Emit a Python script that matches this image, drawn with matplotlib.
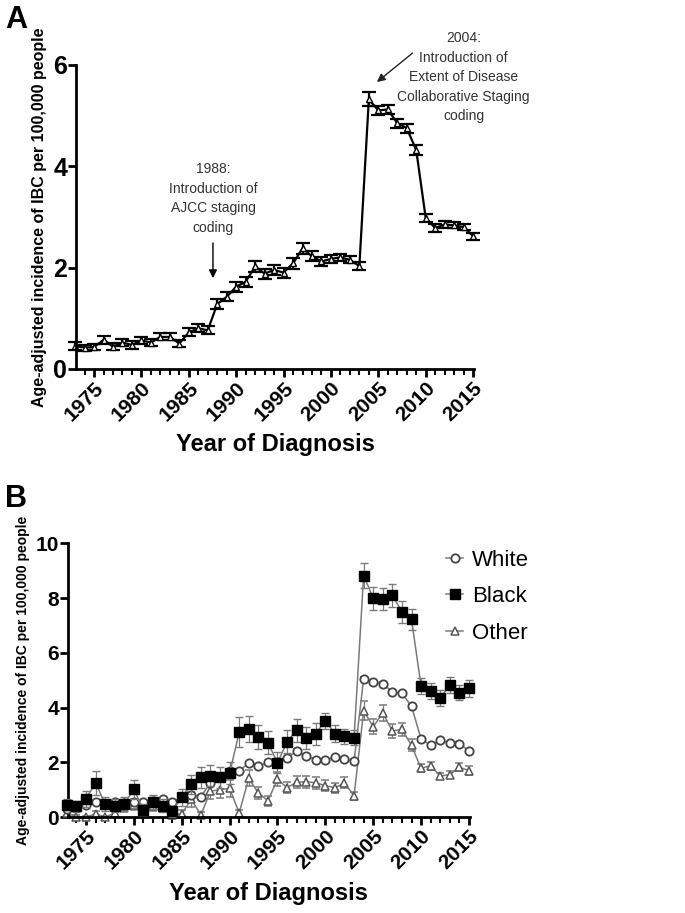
import numpy as np
import matplotlib
matplotlib.use('Agg')
import matplotlib.pyplot as plt
from matplotlib.ticker import MultipleLocator

plt.rcParams['font.family'] = ['Liberation Sans', 'DejaVu Sans']

years = list(range(1973, 2016))

# Panel A: all races
overall = [0.45, 0.42, 0.43, 0.57, 0.44, 0.52, 0.47, 0.56, 0.52, 0.63,
           0.63, 0.50, 0.72, 0.80, 0.76, 1.28, 1.42, 1.62, 1.72, 2.02,
           1.88, 1.95, 1.90, 2.08, 2.38, 2.22, 2.12, 2.17, 2.20, 2.15,
           2.03, 5.32, 5.10, 5.12, 4.85, 4.75, 4.32, 2.98, 2.78, 2.85,
           2.83, 2.80, 2.62]
overall_err = [0.08, 0.06, 0.06, 0.08, 0.07, 0.07, 0.07, 0.07, 0.07, 0.07,
               0.07, 0.07, 0.08, 0.08, 0.08, 0.09, 0.09, 0.10, 0.10, 0.11,
               0.10, 0.10, 0.10, 0.10, 0.11, 0.10, 0.09, 0.08, 0.07, 0.07,
               0.08, 0.14, 0.09, 0.09, 0.09, 0.09, 0.09, 0.08, 0.07, 0.07,
               0.06, 0.06, 0.07]

# Panel B: by race
white = [0.30, 0.38, 0.45, 0.57, 0.48, 0.55, 0.50, 0.55, 0.55, 0.60,
         0.65, 0.55, 0.72, 0.80, 0.75, 1.25, 1.45, 1.70, 1.70, 1.97,
         1.87, 2.00, 2.00, 2.15, 2.42, 2.22, 2.10, 2.08, 2.18, 2.12,
         2.05, 5.05, 4.92, 4.87, 4.58, 4.52, 4.05, 2.85, 2.62, 2.80,
         2.70, 2.68, 2.42]
white_err = [0.06] * len(years)
black = [0.45, 0.40, 0.67, 1.25, 0.48, 0.42, 0.48, 1.02, 0.27, 0.55,
         0.42, 0.22, 0.72, 1.20, 1.45, 1.52, 1.45, 1.60, 3.10, 3.22,
         2.92, 2.72, 1.98, 2.75, 3.17, 2.90, 3.05, 3.52, 3.05, 2.95,
         2.90, 8.82, 8.00, 7.95, 8.10, 7.50, 7.22, 4.78, 4.60, 4.35,
         4.82, 4.55, 4.70]
black_err = [0.20, 0.20, 0.30, 0.45, 0.25, 0.25, 0.25, 0.35, 0.20, 0.25,
             0.25, 0.20, 0.30, 0.35, 0.38, 0.38, 0.38, 0.40, 0.55, 0.48,
             0.45, 0.42, 0.38, 0.42, 0.42, 0.40, 0.40, 0.30, 0.30, 0.28,
             0.28, 0.45, 0.42, 0.40, 0.42, 0.40, 0.38, 0.30, 0.28, 0.28,
             0.30, 0.28, 0.30]
other = [0.15, 0.02, 0.00, 0.12, 0.00, 0.15, 0.40, 0.45, 0.35, 0.40,
         0.35, 0.08, 0.12, 0.65, 0.08, 0.95, 1.00, 1.05, 0.15, 1.42,
         0.88, 0.60, 1.38, 1.08, 1.27, 1.30, 1.25, 1.15, 1.07, 1.25,
         0.78, 3.88, 3.30, 3.80, 3.15, 3.20, 2.62, 1.78, 1.88, 1.50,
         1.55, 1.82, 1.70]
other_err = [0.12, 0.05, 0.05, 0.12, 0.05, 0.15, 0.20, 0.20, 0.18, 0.18,
             0.18, 0.10, 0.15, 0.28, 0.10, 0.30, 0.30, 0.30, 0.12, 0.30,
             0.22, 0.18, 0.25, 0.20, 0.22, 0.22, 0.22, 0.20, 0.18, 0.20,
             0.15, 0.35, 0.28, 0.30, 0.25, 0.25, 0.22, 0.15, 0.15, 0.12,
             0.12, 0.15, 0.15]

ylab = 'Age-adjusted incidence of IBC per 100,000 people'

fig = plt.figure(figsize=(6.85, 9.13), dpi=100)


def style_axis(ax, ymax, ystep, ylabsize, ytick_size, ylab_x):
    ax.spines['top'].set_visible(False)
    ax.spines['right'].set_visible(False)
    ax.spines['left'].set_linewidth(2)
    ax.spines['bottom'].set_linewidth(2)
    ax.set_xlim(1973.1, 2015.1)
    ax.set_ylim(0, ymax)
    ax.xaxis.set_minor_locator(MultipleLocator(1))
    ax.yaxis.set_major_locator(MultipleLocator(ystep))
    ax.set_xticks(range(1975, 2016, 5))
    ax.tick_params(axis='both', which='major', width=2, length=6)
    ax.tick_params(axis='x', which='major', labelsize=15, pad=1)
    ax.tick_params(axis='y', which='major', labelsize=ytick_size, pad=0.5)
    ax.tick_params(axis='x', which='minor', width=1.5, length=4)
    for lab in ax.get_xticklabels():
        lab.set_rotation(45)
        lab.set_ha('right')
        lab.set_rotation_mode('anchor')
        lab.set_fontweight('bold')
    for lab in ax.get_yticklabels():
        lab.set_fontweight('bold')
    ax.set_xlabel('Year of Diagnosis', fontsize=17, fontweight='bold', labelpad=6)
    ax.set_ylabel(ylab, fontsize=ylabsize, fontweight='bold')
    ax.yaxis.set_label_coords(ylab_x, 0.5)


# ---- Panel A ----
axA = fig.add_axes([0.111, 0.596, 0.581, 0.333])
axA.errorbar(years, overall, yerr=overall_err, color='black', lw=1.6,
             marker='^', ms=4, mfc='white', mec='black', capsize=5,
             elinewidth=1.6, capthick=1.6, clip_on=False)
style_axis(axA, 6, 2, 11.5, 18, -0.072)

axA.annotate('1988:\nIntroduction of\nAJCC staging\ncoding', xy=(1987.55, 1.79),
             xytext=(1987.55, 2.65), ha='center', va='bottom', fontsize=10,
             color='#333333', linespacing=1.5,
             arrowprops=dict(arrowstyle='-|>', color='black', lw=1,
                             mutation_scale=12, shrinkA=4, shrinkB=0))
axA.annotate('', xy=(2004.85, 5.66), xytext=(2008.6, 6.23),
             arrowprops=dict(arrowstyle='-|>', color='#222222', lw=1,
                             mutation_scale=12, shrinkA=0, shrinkB=0),
             annotation_clip=False)
axA.text(2014.0, 6.66, '2004:\nIntroduction of\nExtent of Disease\nCollaborative Staging\ncoding',
         ha='center', va='top', fontsize=10, color='#333333', linespacing=1.5)

fig.text(0.008, 0.995, 'A', fontsize=22, fontweight='bold', va='top')

# ---- Panel B ----
axB = fig.add_axes([0.099, 0.105, 0.587, 0.300])
gray = '#7a7a7a'
axB.errorbar(years, white, yerr=white_err, color=gray, lw=1.1, marker='o', ms=6,
             mfc='white', mec='#444444', mew=1.3, capsize=3, elinewidth=0.9,
             ecolor=gray, label='White', clip_on=False, zorder=3)
axB.errorbar(years, black, yerr=black_err, color=gray, lw=1.1, marker='s', ms=7.5,
             mfc='black', mec='black', capsize=3, elinewidth=0.9,
             ecolor=gray, label='Black', clip_on=False, zorder=4)
axB.errorbar(years, other, yerr=other_err, color=gray, lw=1.1, marker='^', ms=6,
             mfc='white', mec='#555555', mew=1.1, capsize=3, elinewidth=0.9,
             ecolor=gray, label='Other', clip_on=False, zorder=2)
style_axis(axB, 10, 2, 10, 15, -0.095)

handles, labels = axB.get_legend_handles_labels()
handles = [h[0] for h in handles]
axB.legend(handles, labels, loc='upper left', bbox_to_anchor=(0.89, 1.05),
           frameon=False, handlelength=0.8, handletextpad=0.4,
           labelspacing=0.7, prop={'size': 16})

fig.text(0.008, 0.47, 'B', fontsize=22, fontweight='bold', va='top')

fig.savefig('out.png', dpi=100)
